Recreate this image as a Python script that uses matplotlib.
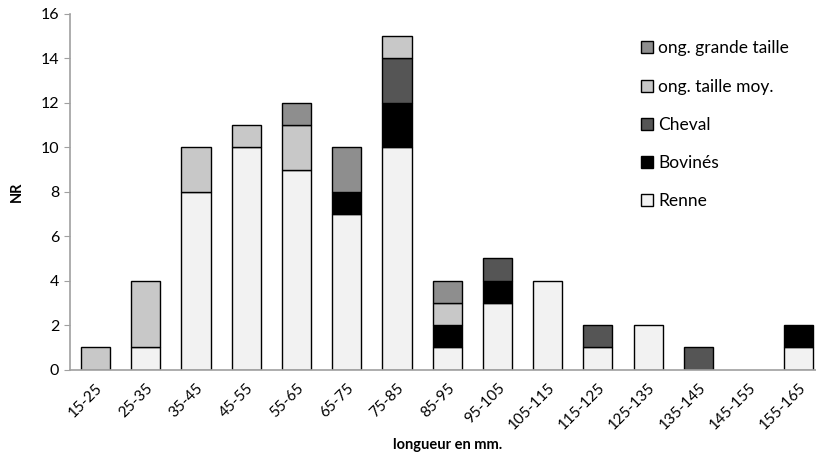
import numpy as np
import matplotlib.pyplot as plt

plt.rcParams['font.family'] = ['Lato', 'DejaVu Sans']

classes = ["15-25", "25-35", "35-45", "45-55", "55-65", "65-75", "75-85", "85-95",
           "95-105", "105-115", "115-125", "125-135", "135-145", "145-155", "155-165"]
renne = [0, 1, 8, 10, 9, 7, 10, 1, 3, 4, 1, 2, 0, 0, 1]
bovines = [0, 0, 0, 0, 0, 1, 2, 1, 1, 0, 0, 0, 0, 0, 1]
cheval = [0, 0, 0, 0, 0, 0, 2, 0, 1, 0, 1, 0, 1, 0, 0]
taille_moy = [1, 3, 2, 1, 2, 0, 1, 1, 0, 0, 0, 0, 0, 0, 0]
grande_taille = [0, 0, 0, 0, 1, 2, 0, 1, 0, 0, 0, 0, 0, 0, 0]

series = [
    ("Renne", renne, "#f2f2f2"),
    ("Bovinés", bovines, "#000000"),
    ("Cheval", cheval, "#555555"),
    ("ong. taille moy.", taille_moy, "#c8c8c8"),
    ("ong. grande taille", grande_taille, "#8e8e8e"),
]

fig = plt.figure(figsize=(8.16, 4.65), dpi=100)
ax = fig.add_axes([70.4 / 816, (465 - 369.5) / 465, 753.6 / 816, 355.5 / 465])

x = np.arange(len(classes))
bottom = np.zeros(len(classes))
handles = []
for name, vals, col in series:
    vals = np.asarray(vals, dtype=float)
    nz = vals > 0
    b = ax.bar(x[nz], vals[nz], 0.58, bottom=bottom[nz], color=col, edgecolor="black",
               linewidth=1.0, label=name)
    handles.append(b)
    bottom += vals

ax.set_xlim(-0.5, len(classes) - 0.5)
ax.set_ylim(0, 16)
ax.set_yticks(range(0, 17, 2))
ax.set_xticks(x)
ax.set_xticklabels(classes, rotation=45, ha="right", rotation_mode="anchor", fontsize=11)
ax.tick_params(axis="x", length=0, pad=8)
ax.tick_params(axis="y", length=4, color="#a0a0a0", labelsize=11.5, pad=4)
for s in ["top", "right"]:
    ax.spines[s].set_visible(False)
for s in ["left", "bottom"]:
    ax.spines[s].set_color("#a0a0a0")
    ax.spines[s].set_linewidth(1.2)

ax.set_ylabel("NR", fontweight="bold", fontsize=10.5, labelpad=12)
ax.set_xlabel("longueur en mm.", fontweight="bold", fontsize=10.5, labelpad=4)

leg = ax.legend(handles[::-1], [s[0] for s in series][::-1], loc="upper left",
                bbox_to_anchor=(0.748, 0.945), frameon=False, fontsize=12.5,
                handlelength=0.7, handleheight=0.7, handletextpad=0.3,
                labelspacing=1.28, borderaxespad=0)

fig.savefig("out.png", dpi=100)
